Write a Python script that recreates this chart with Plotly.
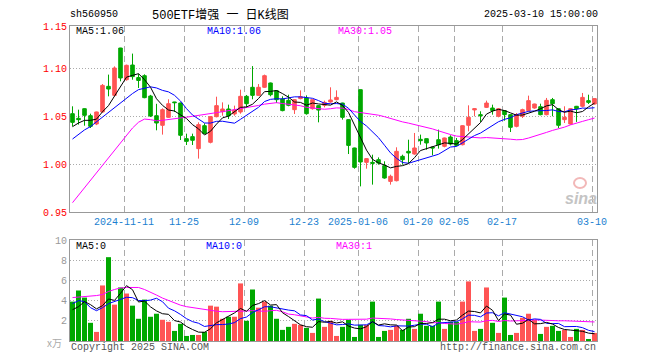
import plotly.graph_objects as go
import pandas as pd

# ---------------- data ----------------
opens = [1.0524,1.0476,1.0576,1.0503,1.0417,1.0542,1.0809,1.0715,1.1208,1.0878,
         1.1031,1.0900,1.0920,1.0708,1.0503,1.0403,1.0486,1.0646,1.0635,1.0264,
         1.0285,1.0160,1.0399,1.0226,1.0493,1.0545,1.0573,1.0521,1.0542,1.0705,
         1.0799,1.0715,1.0799,1.0844,1.0764,1.0677,1.0663,1.0566,1.0681,1.0688,
         1.0576,1.0608,1.0611,1.0646,1.0670,1.0635,1.0462,1.0167,1.0774,1.0017,
         1.0017,1.0045,0.9983,0.9819,0.9826,1.0080,1.0132,1.0104,1.0257,1.0264,
         1.0177,1.0253,1.0184,1.0281,1.0243,1.0201,1.0403,1.0563,1.0514,1.0590,
         1.0583,1.0497,1.0556,1.0514,1.0392,1.0497,1.0556,1.0583,1.0597,1.0514,
         1.0670,1.0576,1.0462,1.0417,1.0601,1.0601,1.0660,1.0625]
highs = [1.0601,1.0566,1.0580,1.0524,1.0545,1.0833,1.0931,1.1017,1.1210,1.1035,
         1.1150,1.0938,1.0934,1.0720,1.0627,1.0580,1.0674,1.0648,1.0640,1.0316,
         1.0316,1.0434,1.0424,1.0500,1.0701,1.0642,1.0618,1.0608,1.0774,1.0719,
         1.1020,1.0833,1.0931,1.0848,1.0768,1.0705,1.0722,1.0675,1.0767,1.0715,
         1.0672,1.0610,1.0660,1.0799,1.0767,1.0638,1.0465,1.0170,1.0776,1.0058,
         1.0097,1.0069,1.0028,0.9889,1.0174,1.0097,1.0253,1.0323,1.0306,1.0266,
         1.0179,1.0358,1.0275,1.0299,1.0271,1.0403,1.0611,1.0583,1.0549,1.0660,
         1.0618,1.0580,1.0560,1.0518,1.0531,1.0576,1.0712,1.0628,1.0628,1.0688,
         1.0688,1.0580,1.0601,1.0580,1.0605,1.0740,1.0722,1.0685]
lows = [1.0392,1.0410,1.0399,1.0375,1.0405,1.0535,1.0705,1.0705,1.0861,1.0868,
        1.0878,1.0792,1.0685,1.0490,1.0351,1.0306,1.0480,1.0542,1.0250,1.0198,
        1.0198,1.0056,1.0312,1.0215,1.0486,1.0503,1.0469,1.0503,1.0524,1.0587,
        1.0674,1.0710,1.0792,1.0705,1.0635,1.0549,1.0601,1.0521,1.0674,1.0514,
        1.0566,1.0434,1.0590,1.0639,1.0663,1.0462,1.0104,0.9951,0.9767,0.9951,
        0.9785,0.9993,0.9847,0.9785,0.9819,0.9993,1.0010,1.0097,1.0201,1.0149,
        1.0090,1.0160,1.0174,1.0194,1.0184,1.0194,1.0340,1.0497,1.0438,1.0583,
        1.0514,1.0486,1.0451,1.0333,1.0382,1.0479,1.0549,1.0576,1.0507,1.0507,
        1.0497,1.0375,1.0427,1.0410,1.0438,1.0590,1.0625,1.0618]
closes = [1.0434,1.0462,1.0507,1.0392,1.0542,1.0819,1.0781,1.1000,1.0896,1.1028,
          1.0910,1.0870,1.0691,1.0500,1.0427,1.0566,1.0628,1.0639,1.0299,1.0236,
          1.0247,1.0410,1.0319,1.0493,1.0608,1.0573,1.0503,1.0562,1.0705,1.0628,
          1.0715,1.0799,1.0920,1.0722,1.0670,1.0556,1.0611,1.0670,1.0701,1.0524,
          1.0670,1.0562,1.0642,1.0667,1.0694,1.0486,1.0194,0.9965,1.0021,1.0056,
          1.0007,1.0010,0.9854,0.9872,1.0132,1.0045,1.0115,1.0167,1.0243,1.0219,
          1.0167,1.0201,1.0271,1.0208,1.0194,1.0399,1.0486,1.0576,1.0503,1.0635,
          1.0556,1.0576,1.0514,1.0382,1.0514,1.0566,1.0660,1.0625,1.0514,1.0663,
          1.0628,1.0403,1.0486,1.0576,1.0576,1.0694,1.0642,1.0681]
# volume in 万 (x10k)
volumes = [3.9,5.0,4.3,1.8,0.9,5.5,8.3,3.6,5.3,4.7,
           3.5,2.2,4.1,2.4,2.7,2.1,1.9,1.0,1.7,0.5,
           0.6,0.6,0.9,3.5,3.4,2.2,2.4,2.4,5.7,2.0,
           5.1,3.3,3.9,3.5,2.2,1.1,1.4,1.7,1.6,1.3,
           0.8,4.2,1.4,2.0,0.5,1.4,2.1,0.4,1.6,1.6,
           3.9,0.4,1.0,1.1,1.5,1.1,2.2,1.2,2.7,1.5,
           1.5,3.9,1.2,1.9,1.9,3.9,5.9,1.0,1.2,5.3,
           1.8,0.8,4.3,0.6,0.8,2.3,2.7,2.1,0.7,1.4,
           1.5,1.0,1.1,0.4,1.2,1.1,0.1,0.8]

# moving-average values before enough bars are visible
ma5_head = [1.0389, 1.0427, 1.0455, 1.0455]
ma10_head = [1.0260, 1.0310, 1.0355, 1.0390, 1.0440, 1.0485, 1.0530, 1.0580, 1.0635]
ma30_head = [0.9597, 0.9675, 0.9753, 0.9831, 0.9910, 0.9988, 1.0066, 1.0144, 1.0222, 1.0300,
             1.0375, 1.0435, 1.0468, 1.0462, 1.0450, 1.0455, 1.0465, 1.0470, 1.0478, 1.0488,
             1.0497, 1.0505, 1.0515, 1.0525, 1.0535, 1.0545, 1.0555, 1.0563, 1.0572]
vma5_head = [3.1, 3.4, 3.9, 3.6]
vma10_head = [3.7, 4.0, 3.9, 3.3, 3.0, 3.3, 3.7, 3.9, 4.1]
vma30_head = [4.3, 4.35, 4.4, 4.4, 4.5, 4.6, 4.9, 5.1, 5.25, 5.3,
              5.3, 5.3, 5.1, 4.85, 4.55, 4.25, 4.0, 3.75, 3.55, 3.4,
              3.3, 3.2, 3.1, 3.0, 2.95, 2.9, 2.9, 2.9, 2.9]

holidays = ["2025-01-01", "2025-01-28", "2025-01-29", "2025-01-30", "2025-01-31",
            "2025-02-03", "2025-02-04"]
dates = [d.strftime("%Y-%m-%d") for d in pd.bdate_range("2024-10-29", "2025-03-10")
         if d.strftime("%Y-%m-%d") not in holidays]

tick_dates = ["2024-11-11", "2024-11-25", "2024-12-09", "2024-12-23", "2025-01-06",
              "2025-01-20", "2025-02-05", "2025-02-17", "2025-03-10"]
tick_labels = ["2024-11-11", "11-25", "12-09", "12-23", "2025-01-06",
               "01-20", "02-05", "02-17", "03-10"]
price_ticks = [0.95, 1.00, 1.05, 1.10]
price_tick_text = ["0.95", "1.00", "1.05", "1.10", "1.15"]
vol_ticks = [2, 4, 6, 8, 10]
vol_tick_text = ["2", "4", "6", "8", "10"]

title_code = "sh560950"
title_name = "500ETF增强 一 日K线图"
title_time = "2025-03-10 15:00:00"
ma_labels = ["MA5:1.06", "MA10:1.06", "MA30:1.05"]
vma_labels = ["MA5:0", "MA10:0", "MA30:1"]

# ---------------- helpers ----------------
def moving_avg(vals, n, head):
    out = list(head)
    for i in range(len(head), len(vals)):
        out.append(sum(vals[i - n + 1:i + 1]) / n)
    return out

N = len(closes)
xs = list(range(N))
RED = "#ff5454"
GREEN = "#00a800"
MONO = "Liberation Mono"

ma5 = moving_avg(closes, 5, ma5_head)
ma10 = moving_avg(closes, 10, ma10_head)
ma30 = moving_avg(closes, 30, ma30_head)
vma5 = moving_avg(volumes, 5, vma5_head)
vma10 = moving_avg(volumes, 10, vma10_head)
vma30 = moving_avg(volumes, 30, vma30_head)

vol_colors = [RED if c >= o else GREEN for o, c in zip(opens, closes)]

fig = go.Figure()
fig.add_trace(go.Candlestick(
    x=xs, open=opens, high=highs, low=lows, close=closes, text=dates,
    increasing=dict(line=dict(color=RED, width=1), fillcolor=RED),
    decreasing=dict(line=dict(color=GREEN, width=1), fillcolor=GREEN),
    whiskerwidth=0, xaxis="x", yaxis="y", showlegend=False))
for vals, col in [(ma30, "#ff00ff"), (ma10, "#0000ff"), (ma5, "#000000")]:
    fig.add_trace(go.Scatter(x=xs, y=vals, mode="lines", line=dict(color=col, width=1),
                             xaxis="x", yaxis="y", showlegend=False, hoverinfo="skip"))

fig.add_trace(go.Bar(x=xs, y=volumes, marker=dict(color=vol_colors, line=dict(width=0)),
                     xaxis="x2", yaxis="y2", showlegend=False, text=dates,
                     textposition="none"))
for vals, col in [(vma30, "#ff00ff"), (vma10, "#0000ff"), (vma5, "#000000")]:
    fig.add_trace(go.Scatter(x=xs, y=vals, mode="lines", line=dict(color=col, width=1),
                             xaxis="x2", yaxis="y2", showlegend=False, hoverinfo="skip"))

# ---------------- layout ----------------
# the page body has an 8px margin, so the figure is made 8px smaller and its
# margins reduced so the plot lands where it sits in the reference screenshot
PAGE = 8
SW, SH = 660, 360                      # screenshot size
PL, PR, PT, PB = 70, 597, 26, 341      # plot box in screenshot pixels
W, H = SW - PAGE, SH - PAGE
L, R, T, B = PL - PAGE, SW - PR, PT - PAGE, SH - PB
PW, PH = PR - PL, PB - PT
main_bottom_px, vol_top_px = 212, 240

def py(ypx):
    return (PB - ypx) / PH

def px(xpx):
    return (xpx - PL) / PW

x_lo = -2.5 / 6
x_hi = x_lo + PW / 6
tick_pos = [dates.index(d) - 2.5 / 6 for d in tick_dates]
p_top = 0.95 + (main_bottom_px - PT) / 960

grid_col = "#aaaaaa"
axis_col = "#999999"

xcommon = dict(range=[x_lo, x_hi], tickvals=tick_pos, showgrid=True, gridcolor=grid_col,
               griddash="6px,4px", gridwidth=1, showline=True, linecolor=axis_col,
               mirror=True, ticks="", zeroline=False, fixedrange=True)

fig.update_layout(
    width=W, height=H, margin=dict(l=L, r=R, t=T, b=B),
    paper_bgcolor="white", plot_bgcolor="white",
    boxgap=0.15, bargap=1 / 6,
    xaxis=dict(**xcommon, ticktext=tick_labels, domain=[0, 1], anchor="y",
               rangeslider=dict(visible=False),
               tickfont=dict(family=MONO, size=10, color="#1b7fd0")),
    xaxis2=dict(**xcommon, showticklabels=False, domain=[0, 1], anchor="y2", matches="x"),
    yaxis=dict(domain=[py(main_bottom_px), 1], range=[0.95, p_top],
               tickvals=price_ticks + [p_top], ticktext=price_tick_text,
               tickfont=dict(family=MONO, size=10, color="#ff0000"),
               showgrid=True, gridcolor=grid_col, griddash="1px,2px",
               showline=True, linecolor=axis_col, mirror=True, ticks="",
               zeroline=False, fixedrange=True),
    yaxis2=dict(domain=[0, py(vol_top_px)], range=[0, 10],
                tickvals=vol_ticks, ticktext=vol_tick_text,
                tickfont=dict(family=MONO, size=10, color="#999999"),
                showgrid=True, gridcolor=grid_col, griddash="1px,2px",
                showline=True, linecolor=axis_col, mirror=True, ticks="",
                zeroline=False, fixedrange=True),
)

ann = []
def text(s, xpx, ypx, color="#000000", size=10, anchor="left", family=MONO, **kw):
    ann.append(dict(text=s, x=px(xpx), y=py(ypx), xref="paper", yref="paper",
                    xanchor=anchor, yanchor="middle", showarrow=False,
                    font=dict(family=family, size=size, color=color), **kw))

text(title_code, 68, 15)
text(title_name, 220, 16, size=12, anchor="center",
     family="Liberation Mono, Noto Sans CJK SC")
text(title_time, 600, 15, anchor="right")
text(ma_labels[0], 74, 31, "#000000")
text(ma_labels[1], 205, 31, "#0000ff")
text(ma_labels[2], 336, 31, "#ff00ff")
text(vma_labels[0], 74, 247, "#000000")
text(vma_labels[1], 204, 247, "#0000ff")
text(vma_labels[2], 334, 247, "#ff00ff")
text("x万", 64, 342, "#aaaaaa", size=10, anchor="right",
     family="Noto Sans CJK SC, Liberation Mono")
text("Copyright 2025 SINA.COM", 69, 347, "#555555")
text("http://finance.sina.com.cn", 598, 347, "#555555", anchor="right")
text("<b><i>sina</i></b>", 581, 198, "#c4c4c4", size=16, anchor="center",
     family="Liberation Sans")
fig.update_layout(annotations=ann)
fig.add_shape(type="circle", xref="paper", yref="paper",
              x0=px(574), x1=px(586), y0=py(188), y1=py(178),
              line=dict(color="#f2b8b8", width=2))

fig.write_html("out.html")
